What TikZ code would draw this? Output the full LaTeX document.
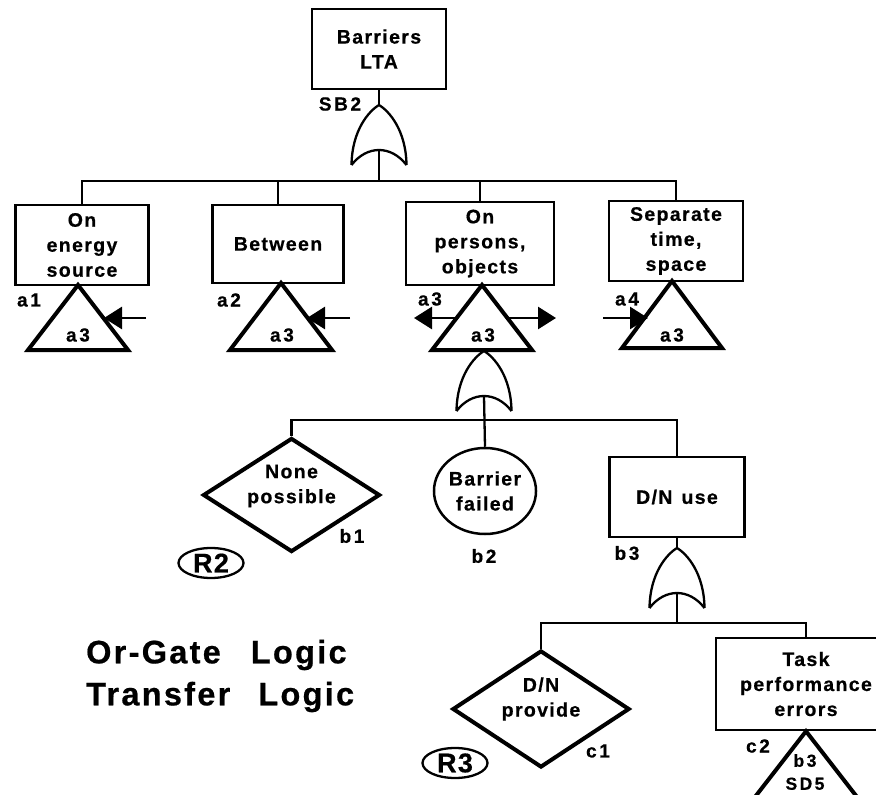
\documentclass[tikz,border=0pt]{standalone}
\usepackage{fontspec}
\setmainfont{Liberation Sans}
\newfontfamily\boxfont{Liberation Sans}[LetterSpace=7, BoldFeatures={FakeBold=0.6}]
\newfontfamily\labfont{Liberation Sans}[LetterSpace=14, BoldFeatures={FakeBold=0.6}]
\newfontfamily\bigfont{Liberation Sans}[LetterSpace=5, BoldFeatures={FakeBold=0.6}]
\newfontfamily\legfont{Liberation Sans}[LetterSpace=7, BoldFeatures={FakeBold=0.6}]
\usetikzlibrary{shapes.geometric,arrows.meta,calc}

\tikzset{
  boxnode/.style={draw, line width=2.5pt, rectangle, inner sep=0pt, align=center,
    font={\boxfont\bfseries\fontsize{19.5}{25}\selectfont}},
  dianode/.style={draw, line width=4pt, diamond, inner sep=0pt, aspect=1.55,
    minimum width=177pt, minimum height=114pt},
  txtnode/.style={inner sep=0pt, align=center, font={\boxfont\bfseries\fontsize{19.5}{25}\selectfont}},
  labnode/.style={inner sep=0pt, font={\labfont\bfseries\fontsize{19}{19}\selectfont}},
  rnode/.style={draw, ellipse, line width=2.3pt, inner sep=0pt, minimum width=65pt, minimum height=30pt,
    font={\bigfont\bfseries\fontsize{27}{27}\selectfont}},
  circnode/.style={draw, ellipse, line width=2.5pt, inner sep=0pt, minimum width=99pt, minimum height=86pt,
    align=center, font={\boxfont\bfseries\fontsize{19.5}{25}\selectfont}},
  conn/.style={line width=2.3pt},
  gateline/.style={line width=2.3pt},
  trishape/.style={line width=4pt, line join=miter},
  arr/.style={line width=2.8pt, -{Triangle[length=18pt,width=22pt]}},
  orgate/.pic={
    \draw[gateline] (-27.5,60) .. controls (-27,25) and (-10,6) .. (0,0)
                               .. controls (10,6) and (27,25) .. (27.5,60);
    \draw[gateline] (-27.5,60) .. controls (-12,40) and (12,40) .. (27.5,60);
    \coordinate (-in) at (0,0);
    \coordinate (-out) at (0,45);
  }
}

\begin{document}
\begin{tikzpicture}[x=1pt,y=-1pt]
\useasboundingbox (0,0) rectangle (876,795);
\fill[white] (0,0) rectangle (876,795);
\clip (0,0) rectangle (876,795);

% top event
\node[boxnode, minimum width=134pt, minimum height=80pt] (top) at (379,49) {Barriers\\LTA};
\node[labnode] (lsb2) at (340,104) {SB2};
\pic (g1) at (379,105) {orgate};
\coordinate (bus1) at (379,181);
\draw[conn] (top.south) -- (g1-in);
\draw[conn] (g1-out) -- (bus1);

% second level boxes
\node[boxnode, minimum width=133pt, minimum height=80pt] (bx1) at (82,245) {On\\energy\\source};
\node[boxnode, minimum width=131pt, minimum height=78pt] (bx2) at (278,244) {Between};
\node[boxnode, minimum width=148pt, minimum height=83pt] (bx3) at (480,243.5) {On\\persons,\\objects};
\node[boxnode, minimum width=134pt, minimum height=80pt] (bx4) at (676,241) {Separate\\time,\\space};
\draw[conn] (bx1.north) |- (bus1) -| (bx4.north);
\draw[conn] (bx2.north) -- (bx2.north |- bus1);
\draw[conn] (bx3.north) -- (bx3.north |- bus1);

% transfer triangles
\draw[trishape] (78,285) -- (28,350) -- (128,350) -- cycle;
\draw[trishape] (281,283) -- (230,350) -- (332,350) -- cycle;
\draw[trishape] (482,285) -- (432,350) -- (532,350) -- cycle;
\draw[trishape] (672,281) -- (622,348) -- (722,348) -- cycle;
\node[labnode] (t1) at (78,335) {a3};
\node[labnode] (t2) at (282,335) {a3};
\node[labnode] (t3) at (483,335) {a3};
\node[labnode] (t4) at (672,335) {a3};
\node[labnode] (la1) at (29,300) {a1};
\node[labnode] (la2) at (229,300) {a2};
\node[labnode] (la3) at (430,299) {a3};
\node[labnode] (la4) at (627,299) {a4};

% transfer arrows
\coordinate (a1s) at (146,318); \coordinate (a1e) at (104,318);
\coordinate (a2s) at (350,318); \coordinate (a2e) at (307,318);
\coordinate (a3s) at (458,318); \coordinate (a3e) at (414,318);
\coordinate (a3r) at (508,318); \coordinate (a3f) at (556,318);
\coordinate (a4s) at (603,318); \coordinate (a4e) at (648,318);
\draw[arr] (a1s) -- (a1e);
\draw[arr] (a2s) -- (a2e);
\draw[arr] (a3s) -- (a3e);
\draw[arr] (a3r) -- (a3f);
\draw[arr] (a4s) -- (a4e);

% gate under a3
\pic (g2) at (484,351) {orgate};
\coordinate (bus2) at (484,420);
\node[dianode] (b1) at (291.5,495) {};
\node[txtnode] (b1t) at (291.5,486) {None\\possible};
\node[circnode] (b2) at (485,491) {Barrier\\failed};
\node[boxnode, minimum width=135pt, minimum height=80pt] (b3) at (677,497) {D/N\hspace{9pt}use};
\draw[conn] (g2-out) -- (b2.north);
\draw[conn] (b1.north) |- (bus2) -| (b3.north);
\node[labnode] (lb1) at (352,536) {b1};
\node[labnode] (lb2) at (484,556) {b2};
\node[labnode] (lb3) at (627,553) {b3};
\node[rnode] (r2) at (211,563) {R2};

% gate under D/N use
\pic (g3) at (677,548) {orgate};
\coordinate (bus3) at (677,623);
\draw[conn] (b3.south) -- (g3-in);
\draw[conn] (g3-out) -- (bus3);
\node[dianode, minimum height=117pt] (c1) at (541,709) {};
\node[txtnode] (c1t) at (541,699) {D/N\\provide};
\node[boxnode, minimum width=180pt, minimum height=92pt] (c2) at (806,684) {Task\\performance\\errors};
\draw[conn] (c1.north) |- (bus3) -| (c2.north);
\node[labnode] (lc1) at (598,751) {c1};
\node[labnode] (lc2) at (758,746) {c2};
\node[rnode] (r3) at (455,763) {R3};

% transfer triangle under task performance errors
\draw[trishape] (c2.south) -- ++(-52,67) -- ++(104,0) -- cycle;
\node[labnode, align=center, font={\labfont\bfseries\fontsize{17.5}{23}\selectfont}] (t5) at (805,772) {b3\\SD5};

% legend
\node[inner sep=0pt, align=left, anchor=west, font={\legfont\bfseries\fontsize{32.5}{42}\selectfont}] (legend) at (86,676)
  {Or-Gate\hspace{30pt}Logic\\Transfer\hspace{28pt}Logic};
\end{tikzpicture}
\end{document}
